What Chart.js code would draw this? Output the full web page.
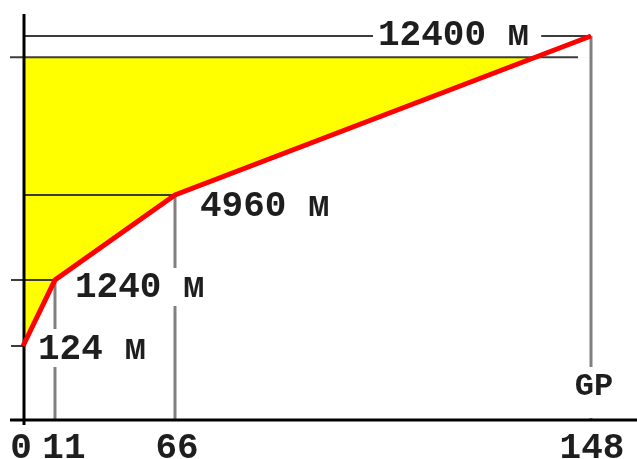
<!DOCTYPE html>
<html lang="ru">
<head>
    <meta charset="UTF-8">
    <title>Высота по дистанции</title>
    <script src="https://cdn.jsdelivr.net/npm/chart.js"></script>
    <style>
        body { margin: 0; background: #ffffff; }
        .chart-box { position: relative; width: 637px; height: 459px; }
    </style>
</head>
<body>
    <div class="chart-box">
        <canvas id="altChart"></canvas>
    </div>

    <script>
        // Данные графика
        const distances = [0, 11, 66, 148];
        const altitudes = [124, 1240, 4960, 12400];
        const altitudeLabels = ['124 м', '1240 м', '4960 м', '12400 м'];
        const distanceTicks = ['0', '11', '66', '148'];
        const fillCeiling = 11400;
        const endLabel = 'GP';

        // Шкалы на схеме не линейные: узлы (значение -> доля оси)
        const scaleAnchors = {
            x: { values: [0, 11, 66, 148], fractions: [0, 0.0563, 0.2676, 1] },
            y: { values: [0, 124, 1240, 4960, 12400], fractions: [0, 0.1927, 0.3646, 0.5859, 1] }
        };

        function interp(v, from, to) {
            if (v <= from[0]) return to[0];
            for (let i = 1; i < from.length; i++) {
                if (v <= from[i]) {
                    const t = (v - from[i - 1]) / (from[i] - from[i - 1]);
                    return to[i - 1] + t * (to[i] - to[i - 1]);
                }
            }
            return to[to.length - 1];
        }

        class PiecewiseScale extends Chart.LinearScale {
            getPixelForValue(value) {
                if (value === null || isNaN(value)) return NaN;
                const a = scaleAnchors[this.id];
                return this.getPixelForDecimal(interp(value, a.values, a.fractions));
            }
            getValueForPixel(pixel) {
                const a = scaleAnchors[this.id];
                return interp(this.getDecimalForPixel(pixel), a.fractions, a.values);
            }
        }
        PiecewiseScale.id = 'piecewise';
        PiecewiseScale.defaults = Chart.LinearScale.defaults;
        Chart.register(PiecewiseScale);

        const labelFont = 'bold 36px "Liberation Mono", "Courier New", monospace';
        // смещения подписей высоты относительно точки
        const labelOffsets = [[15, 2], [20, 7], [25, 10], [-213, -2]];
        // сдвиг подписей оси X от их делений
        const tickShift = [-2, 9, 2, 1];

        function drawLine(ctx, x1, y1, x2, y2, color, width) {
            ctx.beginPath();
            ctx.strokeStyle = color;
            ctx.lineWidth = width;
            ctx.moveTo(x1, y1);
            ctx.lineTo(x2, y2);
            ctx.stroke();
        }

        const overlay = {
            id: 'overlay',
            beforeDatasetsDraw(chart) {
                const { ctx, chartArea: a, scales: { x, y } } = chart;
                ctx.save();

                // горизонтальные линии от оси до точек
                distances.forEach((d, i) => {
                    const px = x.getPixelForValue(d);
                    const py = y.getPixelForValue(altitudes[i]);
                    const start = i === 2 || i === 3 ? a.left : a.left - 12;
                    drawLine(ctx, start, py, px, py, '#3c3c3c', 2);
                });
                // верхняя граница заливки
                const cy = y.getPixelForValue(fillCeiling);
                drawLine(ctx, a.left - 13, cy, x.getPixelForValue(distances[3]) - 13, cy, '#3c3c3c', 2);

                // вертикальные линии от точек до оси
                distances.forEach((d, i) => {
                    if (i === 0) return;
                    const px = x.getPixelForValue(d);
                    const py = y.getPixelForValue(altitudes[i]);
                    drawLine(ctx, px, py, px, a.bottom, '#808080', 3);
                });

                // подписи высот с белым фоном
                ctx.font = labelFont;
                ctx.textAlign = 'left';
                ctx.textBaseline = 'alphabetic';
                altitudeLabels.forEach((txt, i) => {
                    const px = x.getPixelForValue(distances[i]) + labelOffsets[i][0];
                    const pm = y.getPixelForValue(altitudes[i]) + labelOffsets[i][1];
                    const w = ctx.measureText(txt).width;
                    ctx.fillStyle = '#ffffff';
                    ctx.fillRect(px - 5, pm - 19, w + 17, 38);
                    ctx.fillStyle = '#1e1e1e';
                    ctx.fillText(txt, px, pm + 10.5);
                });

                // подпись конечной точки
                const gx = x.getPixelForValue(distances[3]);
                ctx.font = 'bold 32px "Liberation Mono", "Courier New", monospace';
                ctx.textAlign = 'center';
                const gw = ctx.measureText(endLabel).width;
                ctx.fillStyle = '#ffffff';
                ctx.fillRect(gx - gw / 2 - 3, a.bottom - 53, gw + 6, 51);
                ctx.fillStyle = '#1e1e1e';
                ctx.fillText(endLabel, gx + 3, a.bottom - 25);

                // оси
                drawLine(ctx, 10, a.bottom, chart.width, a.bottom, '#000000', 3);
                drawLine(ctx, a.left + 1, 14, a.left + 1, a.bottom + 5, '#000000', 3);

                // подписи оси X
                ctx.font = labelFont;
                ctx.fillStyle = '#1e1e1e';
                distanceTicks.forEach((t, i) => {
                    ctx.fillText(t, x.getPixelForValue(distances[i]) + tickShift[i], a.bottom + 38);
                });

                ctx.restore();
            }
        };

        new Chart(document.getElementById('altChart'), {
            type: 'line',
            data: {
                datasets: [{
                    data: distances.map((d, i) => ({ x: d, y: altitudes[i] })),
                    borderColor: '#ff0000',
                    borderWidth: 5,
                    pointRadius: 0,
                    tension: 0,
                    clip: false,
                    fill: { target: { value: fillCeiling }, above: 'rgba(0,0,0,0)', below: '#ffff00' }
                }]
            },
            options: {
                responsive: true,
                maintainAspectRatio: false,
                animation: false,
                devicePixelRatio: 1,
                layout: { padding: { left: 23, right: 46, top: 36, bottom: 39 } },
                scales: {
                    x: { type: 'piecewise', min: 0, max: 148, display: false },
                    y: { type: 'piecewise', min: 0, max: 12400, display: false }
                },
                plugins: {
                    legend: { display: false },
                    tooltip: { enabled: false },
                    filler: { drawTime: 'beforeDatasetsDraw' }
                }
            },
            plugins: [overlay]
        });
    </script>
</body>
</html>
